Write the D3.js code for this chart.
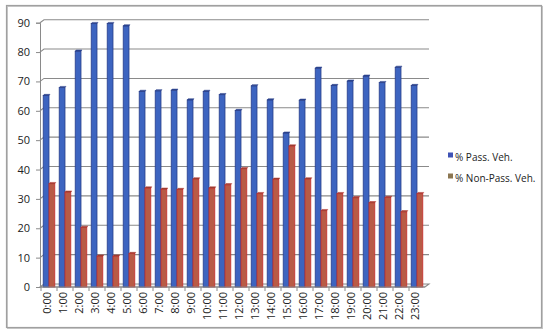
<!DOCTYPE html>
<html>
<head>
<meta charset="utf-8">
<script src="https://cdn.jsdelivr.net/npm/d3@7"></script>
<style>
  body { margin: 0; background: #fff; }
  svg text { font-family: "Open Sans", "DejaVu Sans", sans-serif; fill: #222; }
</style>
</head>
<body>
<div id="chart"></div>
<script>
var hours = ["0:00","1:00","2:00","3:00","4:00","5:00","6:00","7:00","8:00","9:00","10:00","11:00",
             "12:00","13:00","14:00","15:00","16:00","17:00","18:00","19:00","20:00","21:00","22:00","23:00"];
var passVeh = [65.2, 67.9, 80.3, 89.7, 89.7, 88.9, 66.6, 66.8, 67.0, 63.7, 66.6, 65.5,
               60.1, 68.5, 63.7, 52.4, 63.6, 74.5, 68.6, 70.1, 71.8, 69.6, 74.8, 68.6];
var nonPassVeh = [35.2, 32.3, 20.3, 10.5, 10.5, 11.4, 33.7, 33.3, 33.2, 36.8, 33.7, 34.8,
                  40.3, 31.8, 36.7, 48.0, 36.8, 26.0, 31.8, 30.4, 28.7, 30.5, 25.6, 31.8];
var yTicks = [0, 10, 20, 30, 40, 50, 60, 70, 80, 90];
var seriesNames = ["% Pass. Veh.", "% Non-Pass. Veh."];

var W = 550, H = 335;
var margin = {top: 22.7, left: 40, right: 125, bottom: 48};
var depth = {dx: 4, dy: -3};

var svg = d3.select("#chart").append("svg")
    .attr("width", W)
    .attr("height", H);

// outer frame
svg.append("rect")
    .attr("x", 7.5).attr("y", 6.5)
    .attr("width", 535).attr("height", 322)
    .attr("fill", "none")
    .attr("stroke", "#c8c8c8")
    .attr("stroke-width", 1);
svg.append("rect")
    .attr("x", 6.5).attr("y", 5.5)
    .attr("width", 535).attr("height", 322)
    .attr("fill", "none")
    .attr("stroke", "#a0a0a0")
    .attr("stroke-width", 1.2);

var x = d3.scaleBand()
    .domain(hours)
    .range([41, 425])
    .paddingInner(0)
    .paddingOuter(0);

var y = d3.scaleLinear()
    .domain([0, 90])
    .range([287, 22.7]);

// back-wall gridlines with 3D offset
var grid = svg.append("g");
yTicks.forEach(function(t) {
  var yy = y(t);
  grid.append("path")
      .attr("d", "M" + margin.left + "," + yy +
                 "L" + (margin.left + depth.dx) + "," + (yy + depth.dy) +
                 "L" + (x.range()[1] + depth.dx) + "," + (yy + depth.dy) +
                 (t === 0 ? "L" + x.range()[1] + "," + yy + "Z" : ""))
      .attr("fill", t === 0 ? "#f2f2f2" : "none")
      .attr("stroke", "#8a8a8a")
      .attr("stroke-width", 1.1);
});

// y axis
var yAxis = d3.axisLeft(y)
    .tickValues(yTicks)
    .tickSize(4)
    .tickPadding(6);
var yg = svg.append("g")
    .attr("transform", "translate(" + margin.left + ",0)")
    .call(yAxis);
yg.select(".domain").attr("stroke", "#8a8a8a");
yg.selectAll(".tick line").attr("stroke", "#8a8a8a");
yg.selectAll("text").style("font-size", "11px").attr("fill", "#222");

// bars
var bw = 5.8;
var barG = svg.append("g");

function drawBars(values, offset, fill, side, edge) {
  var g = barG.append("g");
  g.selectAll("rect.face")
    .data(values)
    .join("rect")
      .attr("class", "face")
      .attr("x", function(d, i) { return x(hours[i]) + x.bandwidth() / 2 + offset; })
      .attr("y", function(d) { return y(d); })
      .attr("width", bw)
      .attr("height", function(d) { return y(0) - y(d); })
      .attr("fill", fill)
      .attr("stroke", edge)
      .attr("stroke-width", 0.8);
  // top face
  g.selectAll("path.top")
    .data(values)
    .join("path")
      .attr("class", "top")
      .attr("d", function(d, i) {
        var x0 = x(hours[i]) + x.bandwidth() / 2 + offset, y0 = y(d);
        return "M" + x0 + "," + y0 + "l1,-1.2l" + bw + ",0l-1,1.2Z";
      })
      .attr("fill", side)
      .attr("stroke", edge)
      .attr("stroke-width", 0.5);
}

drawBars(passVeh, -bw, "#3d64c0", "#2c4790", "#2a3f8a");
drawBars(nonPassVeh, 0, "#b85b46", "#7e4a35", "#c82e2e");

// floor front line
svg.append("line")
    .attr("x1", margin.left).attr("x2", x.range()[1])
    .attr("y1", y(0)).attr("y2", y(0))
    .attr("stroke", "#8a8a8a")
    .attr("stroke-width", 1.1);

// x labels
var xl = svg.append("g");
hours.forEach(function(h) {
  var cx = x(h) + x.bandwidth() / 2;
  xl.append("line")
      .attr("x1", x(h)).attr("x2", x(h))
      .attr("y1", y(0)).attr("y2", y(0) + 4)
      .attr("stroke", "#8a8a8a");
  xl.append("text")
      .attr("transform", "translate(" + (cx + 2) + "," + (y(0) + 5) + ") rotate(-90)")
      .attr("text-anchor", "end")
      .attr("dy", "0")
      .style("font-size", "11px")
      .text(h);
});

// legend
var legend = svg.append("g").attr("transform", "translate(448,0)");
var legColors = ["#3f52b5", "#8b7651"];
var legY = [157, 178];
seriesNames.forEach(function(name, i) {
  legend.append("rect")
      .attr("x", 0).attr("y", legY[i] - 4.5)
      .attr("width", 5).attr("height", 5)
      .attr("fill", legColors[i]);
  legend.append("text")
      .attr("x", 7).attr("y", legY[i])
      .attr("dy", "0.35em")
      .style("font-size", "10px")
      .text(name);
});
</script>
</body>
</html>
